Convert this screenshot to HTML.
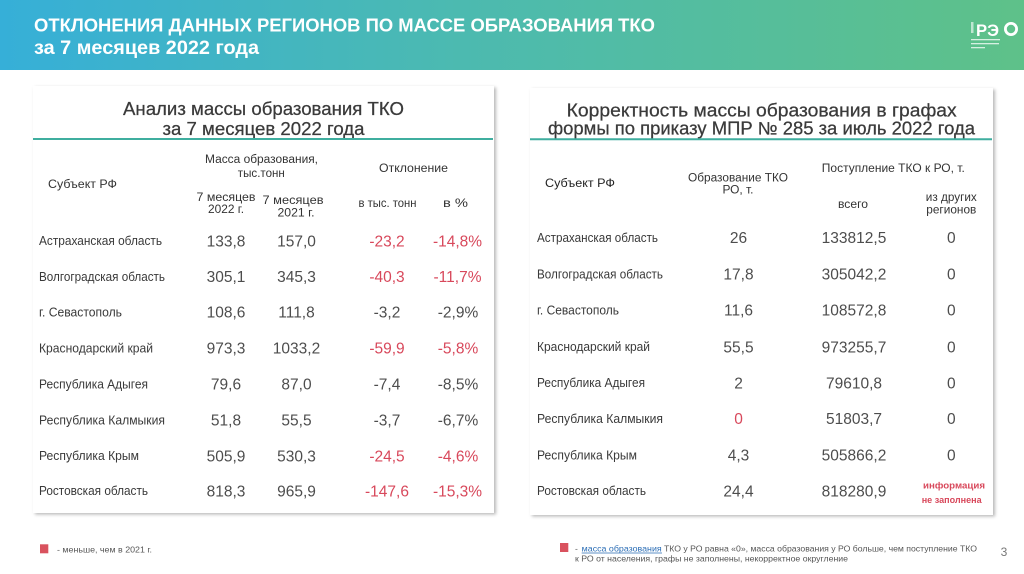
<!DOCTYPE html>
<html><head><meta charset="utf-8"><style>
html,body{margin:0;padding:0;background:#fff;}
svg{display:block;}
text{font-family:"Liberation Sans","Noto Sans CJK SC",sans-serif;}
</style></head><body>
<svg width="1024" height="574" viewBox="0 0 1024 574" xmlns="http://www.w3.org/2000/svg">
<defs>
<linearGradient id="hg" x1="0" y1="0" x2="1" y2="0">
<stop offset="0" stop-color="#36afd8"/>
<stop offset="0.45" stop-color="#4cbab0"/>
<stop offset="1" stop-color="#5ec189"/>
</linearGradient>
<filter id="sh" x="-5%" y="-5%" width="110%" height="110%">
<feDropShadow dx="2" dy="1.5" stdDeviation="1.6" flood-color="#000" flood-opacity="0.28"/>
</filter>
</defs>
<rect x="0" y="0" width="1024" height="574" fill="#fff"/>
<!-- header -->
<rect x="0" y="0" width="1024" height="70" fill="url(#hg)"/>
<text x="34" y="31.5" font-size="18.5" font-weight="bold" fill="#fff" textLength="621" lengthAdjust="spacingAndGlyphs">ОТКЛОНЕНИЯ ДАННЫХ РЕГИОНОВ ПО МАССЕ ОБРАЗОВАНИЯ ТКО</text>
<text x="34" y="54" font-size="19" font-weight="bold" fill="#fff" textLength="225" lengthAdjust="spacingAndGlyphs">за 7 месяцев 2022 года</text>
<!-- logo -->
<text x="976" y="36" font-size="17" font-weight="bold" fill="#fff" textLength="23" lengthAdjust="spacingAndGlyphs">РЭ</text>
<circle cx="1011" cy="29" r="5.6" fill="none" stroke="#fff" stroke-width="2.8"/>
<rect x="971" y="22" width="2.5" height="11" fill="#fff" opacity="0.6"/>
<rect x="971" y="39" width="29" height="1.3" fill="#fff" opacity="0.75"/>
<rect x="971" y="43" width="28" height="1.3" fill="#fff" opacity="0.75"/>
<rect x="971" y="47" width="14" height="1.3" fill="#fff" opacity="0.75"/>

<!-- cards -->
<rect x="33" y="86" width="461" height="427" fill="#fff" filter="url(#sh)"/>
<rect x="530" y="88" width="463" height="427" fill="#fff" filter="url(#sh)"/>

<!-- left card title -->
<text x="263.5" y="115" font-size="18" fill="#3a3a3a" stroke="#3a3a3a" stroke-width="0.25" text-anchor="middle" textLength="281" lengthAdjust="spacingAndGlyphs">Анализ массы образования ТКО</text>
<text x="263.5" y="135" font-size="18" fill="#3a3a3a" stroke="#3a3a3a" stroke-width="0.25" text-anchor="middle" textLength="202" lengthAdjust="spacingAndGlyphs">за 7 месяцев 2022 года</text>
<line x1="33" y1="139" x2="493" y2="139" stroke="#3fae9f" stroke-width="2"/>

<!-- left headers -->
<g font-size="11.5" fill="#333">
<text x="261.5" y="163" text-anchor="middle" textLength="113" lengthAdjust="spacingAndGlyphs">Масса образования,</text>
<text x="261.3" y="177" text-anchor="middle" textLength="47" lengthAdjust="spacingAndGlyphs">тыс.тонн</text>
<text x="413.5" y="172" text-anchor="middle" textLength="69" lengthAdjust="spacingAndGlyphs">Отклонение</text>
<text x="48" y="188" textLength="69" lengthAdjust="spacingAndGlyphs">Субъект РФ</text>
<text x="226" y="201" text-anchor="middle" textLength="59" lengthAdjust="spacingAndGlyphs">7 месяцев</text>
<text x="226" y="213" text-anchor="middle" textLength="36" lengthAdjust="spacingAndGlyphs">2022 г.</text>
<text x="293" y="204" text-anchor="middle" textLength="61" lengthAdjust="spacingAndGlyphs">7 месяцев</text>
<text x="296" y="216.5" text-anchor="middle" textLength="37" lengthAdjust="spacingAndGlyphs">2021 г.</text>
<text x="387.5" y="207" text-anchor="middle" textLength="58" lengthAdjust="spacingAndGlyphs">в тыс. тонн</text>
<text x="455.5" y="207" text-anchor="middle" textLength="25" lengthAdjust="spacingAndGlyphs">в %</text>
</g>

<!-- left rows labels -->
<g font-size="12.5" fill="#3a3a3a">
<text x="39" y="245" textLength="123" lengthAdjust="spacingAndGlyphs">Астраханская область</text>
<text x="39" y="281" textLength="126" lengthAdjust="spacingAndGlyphs">Волгоградская область</text>
<text x="39" y="316.5" textLength="83" lengthAdjust="spacingAndGlyphs">г. Севастополь</text>
<text x="39" y="352.5" textLength="114" lengthAdjust="spacingAndGlyphs">Краснодарский край</text>
<text x="39" y="388.5" textLength="109" lengthAdjust="spacingAndGlyphs">Республика Адыгея</text>
<text x="39" y="424.5" textLength="126" lengthAdjust="spacingAndGlyphs">Республика Калмыкия</text>
<text x="39" y="460" textLength="100" lengthAdjust="spacingAndGlyphs">Республика Крым</text>
<text x="39" y="495" textLength="109" lengthAdjust="spacingAndGlyphs">Ростовская область</text>
</g>

<!-- left values -->
<g font-size="15.5" fill="#4d4d4d" text-anchor="middle">
<text x="226" y="246.3">133,8</text><text x="296.5" y="246.3">157,0</text>
<text x="226" y="282.1">305,1</text><text x="296.5" y="282.1">345,3</text>
<text x="226" y="317.6">108,6</text><text x="296.5" y="317.6">111,8</text>
<text x="226" y="353.6">973,3</text><text x="296.5" y="353.6">1033,2</text>
<text x="226" y="389.6">79,6</text><text x="296.5" y="389.6">87,0</text>
<text x="226" y="425.6">51,8</text><text x="296.5" y="425.6">55,5</text>
<text x="226" y="461.3">505,9</text><text x="296.5" y="461.3">530,3</text>
<text x="226" y="496.3">818,3</text><text x="296.5" y="496.3">965,9</text>
</g>
<g font-size="15.5" text-anchor="middle">
<text x="387" y="246.3" fill="#d8485b">-23,2</text><text x="457.5" y="246.3" fill="#d8485b">-14,8%</text>
<text x="387" y="282.1" fill="#d8485b">-40,3</text><text x="457.5" y="282.1" fill="#d8485b">-11,7%</text>
<text x="387" y="317.6" fill="#4d4d4d">-3,2</text><text x="458" y="317.6" fill="#4d4d4d">-2,9%</text>
<text x="387" y="353.6" fill="#d8485b">-59,9</text><text x="458" y="353.6" fill="#d8485b">-5,8%</text>
<text x="387" y="389.6" fill="#4d4d4d">-7,4</text><text x="458" y="389.6" fill="#4d4d4d">-8,5%</text>
<text x="387" y="425.6" fill="#4d4d4d">-3,7</text><text x="458" y="425.6" fill="#4d4d4d">-6,7%</text>
<text x="387" y="461.3" fill="#d8485b">-24,5</text><text x="458" y="461.3" fill="#d8485b">-4,6%</text>
<text x="387" y="496.3" fill="#d8485b">-147,6</text><text x="457.5" y="496.3" fill="#d8485b">-15,3%</text>
</g>

<!-- right card title -->
<text x="761.7" y="116.5" font-size="18" fill="#3a3a3a" stroke="#3a3a3a" stroke-width="0.25" text-anchor="middle" textLength="390" lengthAdjust="spacingAndGlyphs">Корректность массы образования в графах</text>
<text x="761.5" y="134.5" font-size="18" fill="#3a3a3a" stroke="#3a3a3a" stroke-width="0.25" text-anchor="middle" textLength="427" lengthAdjust="spacingAndGlyphs">формы по приказу МПР № 285 за июль 2022 года</text>
<line x1="530" y1="139.3" x2="992" y2="139.3" stroke="#3fae9f" stroke-width="2"/>

<!-- right headers -->
<g font-size="11.5" fill="#333">
<text x="545" y="187" textLength="70" lengthAdjust="spacingAndGlyphs" fill="#222">Субъект РФ</text>
<text x="738" y="181.5" text-anchor="middle" textLength="100" lengthAdjust="spacingAndGlyphs">Образование ТКО</text>
<text x="738" y="193.5" text-anchor="middle" textLength="31" lengthAdjust="spacingAndGlyphs">РО, т.</text>
<text x="893.3" y="172" text-anchor="middle" textLength="143" lengthAdjust="spacingAndGlyphs">Поступление ТКО к РО, т.</text>
<text x="853" y="208" text-anchor="middle" textLength="30" lengthAdjust="spacingAndGlyphs">всего</text>
<text x="951.3" y="201" text-anchor="middle" textLength="51" lengthAdjust="spacingAndGlyphs">из других</text>
<text x="951.3" y="213.5" text-anchor="middle" textLength="50" lengthAdjust="spacingAndGlyphs">регионов</text>
</g>

<!-- right row labels -->
<g font-size="12.5" fill="#3a3a3a">
<text x="537" y="241.8" textLength="121" lengthAdjust="spacingAndGlyphs">Астраханская область</text>
<text x="537" y="278.5" textLength="126" lengthAdjust="spacingAndGlyphs">Волгоградская область</text>
<text x="537" y="314.5" textLength="82" lengthAdjust="spacingAndGlyphs">г. Севастополь</text>
<text x="537" y="351.2" textLength="113" lengthAdjust="spacingAndGlyphs">Краснодарский край</text>
<text x="537" y="387.2" textLength="108" lengthAdjust="spacingAndGlyphs">Республика Адыгея</text>
<text x="537" y="422.8" textLength="126" lengthAdjust="spacingAndGlyphs">Республика Калмыкия</text>
<text x="537" y="459.5" textLength="100" lengthAdjust="spacingAndGlyphs">Республика Крым</text>
<text x="537" y="495.2" textLength="109" lengthAdjust="spacingAndGlyphs">Ростовская область</text>
</g>

<!-- right values -->
<g font-size="15.5" fill="#4d4d4d" text-anchor="middle">
<text x="738.5" y="243">26</text><text x="854" y="243">133812,5</text><text x="951.3" y="243">0</text>
<text x="738.5" y="279.7">17,8</text><text x="854" y="279.7">305042,2</text><text x="951.3" y="279.7">0</text>
<text x="738.5" y="315.7">11,6</text><text x="854" y="315.7">108572,8</text><text x="951.3" y="315.7">0</text>
<text x="738.5" y="352.4">55,5</text><text x="854" y="352.4">973255,7</text><text x="951.3" y="352.4">0</text>
<text x="738.5" y="388.4">2</text><text x="854" y="388.4">79610,8</text><text x="951.3" y="388.4">0</text>
<text x="738.5" y="424" fill="#d8485b">0</text><text x="854" y="424">51803,7</text><text x="951.3" y="424">0</text>
<text x="738.5" y="460.7">4,3</text><text x="854" y="460.7">505866,2</text><text x="951.3" y="460.7">0</text>
<text x="738.5" y="496.4">24,4</text><text x="854" y="496.4">818280,9</text>
</g>
<text x="954" y="488.5" font-size="9.5" font-weight="bold" fill="#d8485b" text-anchor="middle" textLength="62" lengthAdjust="spacingAndGlyphs">информация</text>
<text x="951.7" y="503" font-size="9.5" font-weight="bold" fill="#d8485b" text-anchor="middle" textLength="60" lengthAdjust="spacingAndGlyphs">не заполнена</text>

<!-- footer -->
<rect x="40" y="544.3" width="8.3" height="9" fill="#d9525e"/>
<text x="57" y="552.3" font-size="8.5" fill="#555" textLength="95" lengthAdjust="spacingAndGlyphs">- меньше, чем в 2021 г.</text>
<rect x="560" y="543" width="8.3" height="9" fill="#d9525e"/>
<text x="575" y="551.5" font-size="8.5" fill="#555">-</text>
<text x="581.7" y="551.5" font-size="8.5" fill="#2a6db5" textLength="80" lengthAdjust="spacingAndGlyphs">масса образования</text>
<line x1="581.7" y1="553" x2="662" y2="553" stroke="#2a6db5" stroke-width="0.7"/>
<text x="664" y="551.5" font-size="8.5" fill="#555" textLength="313" lengthAdjust="spacingAndGlyphs">ТКО у РО равна «0», масса образования у РО больше, чем поступление ТКО</text>
<text x="575" y="561.5" font-size="8.5" fill="#555" textLength="273" lengthAdjust="spacingAndGlyphs">к РО от населения, графы не заполнены, некорректное округление</text>
<text x="1004" y="556" font-size="12" fill="#777" text-anchor="middle">3</text>
</svg>
</body></html>
